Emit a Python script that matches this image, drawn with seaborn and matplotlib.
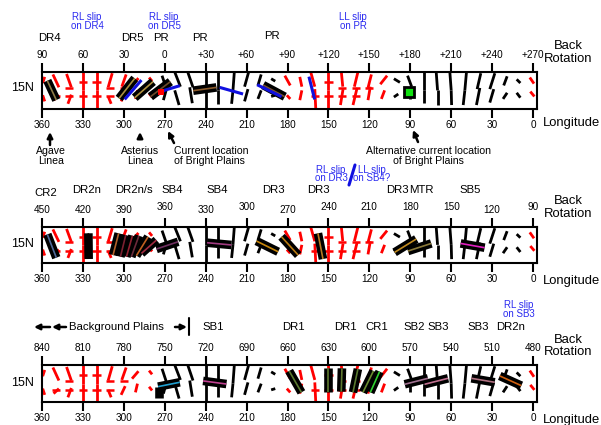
import pandas as pd
import matplotlib.pyplot as plt
import seaborn as sns

W, H = 601, 425

# Strike field, the same in all three panels. Offsets are degrees toward the east of field_lon
field_lon = [360, 350, 340, 330, 320, 310, 300, 290, 280, 270, 260, 250, 240, 230, 220, 210, 200, 190,
             180, 170, 160, 150, 140, 130, 120, 110, 100, 90, 80, 70, 60, 50, 40, 30, 20, 10, 0]
upper_top = [2, -2, -2, 0, 0, 1.5, 1.7, 0.7, -1.5, -2, -2.7, -3, 0, -1, 1, 1.5, 0.7, -2,
             -2, -1, -3, 0, -0.5, 1.5, 1.5, 3, -2, -2, 0, -1, -1, 1.2, 1.7, 2, 1, -2, -2.4]
upper_bot = [0.5, 2.4, 1.5, 0, 0, -1.5, -1.5, -4, 0.7, 1, 1.5, 0.7, 0, -1, 0, -1.5, -1.7, 1,
             2, 0.5, 0, 0, 0.5, -1, -1, -2, 2.4, 1, 0, 0, 0, 0, -1, -1.7, -1.5, 0.7, 0.7]
lower_top = [0.5, 2.4, 1.5, 0, 0, -1.5, 1, 0, -1.5, 1, -2.7, -1.7, 0, -1, 0, 1, 0.7, -2,
             -0.5, 0.5, 0, 0, 0.7, 1, 0.7, 1.2, -2, 0, 0, 0, 0, 0, 1, 1.2, 1, -2, -2]
lower_bot = [2, -1.5, -1, 0, 0, 0.7, -2, -1.5, 0.7, -1, 0.5, 0.2, 0, -1, -1, -1.5, -1.7, 1,
             2, -1, 0.7, 0, -1.2, -2, -1, -1.2, 1.2, 0, 0, 0, 0.3, -1.2, -1.5, -1.7, -2, 0.7, 1]
lat_upper_top = [26, 28, 28.4, 30, 30, 29, 28, 25, 25.5, 27, 30, 29.5, 30, 30, 30, 30, 28, 24.5,
                 27, 26, 30, 30, 29.5, 29.5, 28, 27, 24.5, 27, 30, 30, 30, 30, 29, 29, 26.5, 24, 25.5]
lat_upper_bot = [21, 17.5, 17.5, 15, 15, 17.5, 18, 19, 22.5, 17, 18, 17.5, 15, 15, 15, 18, 19, 22.5,
                 19, 18, 18, 15, 18, 18, 17, 20, 21.5, 18, 15, 15, 15, 15, 16, 16, 19, 21, 20.5]
lat_lower_top = [11, 11, 11.5, 15, 15, 10, 13, 15, 12.5, 15, 15, 17.5, 15, 15, 15, 16, 15, 10,
                 11, 15, 16, 15, 16, 17, 18, 15, 9.5, 14, 15, 15, 15, 15, 17, 16, 13, 13, 14]
lat_lower_bot = [6, 7, 4, 0, 0, 4, 6, 8, 9.5, 7, 3, 4.5, 0, 4, 4, 6, 8, 11,
                 8, 7, 0, 0, 3, 3, 7, 8, 12, 8, 5, 3, 3, 3, 3, 5, 8, 9, 10]
field_colour = ["red"] * 9 + ["black"] * 9 + ["red"] * 8 + ["black"] * 10 + ["red"]

tick_lon = [350, 340, 340, 330, 330, 320, 320, 310, 310, 300, 160, 150, 150, 140, 140, 130, 130, 120]
tick_lat = [10, 17, 10, 22, 10, 22, 10, 17, 10, 17, 10, 22, 10, 17, 10, 17, 10, 17]

# Panel tick labels
lon_ticks = [360, 330, 300, 270, 240, 210, 180, 150, 120, 90, 60, 30, 0]
rotation_1 = ["90", "60", "30", "0", "+30", "+60", "+90", "+120", "+150", "+180", "+210", "+240", "+270"]
rotation_2 = ["450", "420", "390", "360", "330", "300", "270", "240", "210", "180", "150", "120", "90"]
rotation_3 = ["840", "810", "780", "750", "720", "690", "660", "630", "600", "570", "540", "510", "480"]
raised_2 = ["360", "300", "240", "210", "180", "150", "90"]

# Fault bars: end points and inner colour
bars_1 = {
    "lon_a": [356.1, 292, 278.6, 265.9, 249.2, 197.9],
    "lat_a": [22.9, 24.8, 22.1, 22.1, 14.7, 19.3],
    "lon_b": [349.5, 303.5, 292, 280.5, 232.1, 182],
    "lat_b": [7.1, 8.4, 9, 9.8, 17.4, 9.8],
    "colour": ["#8c7a45", "#a89040", "#b09040", "#6b4a2a", "#8b5a2b", "#7a5230"],
}
bars_2 = {
    "lon_a": [356.1, 326, 303.8, 298.6, 293.7, 288.9, 282.2, 276.1, 260.2, 239, 202.8, 184.4, 157.7, 85.6, 74.6, 53.1],
    "lat_a": [23.8, 24.7, 24.7, 23.2, 22.7, 22.7, 21.8, 19, 17.6, 16.8, 18.2, 21.8, 24.7, 19.9, 16.2, 16.2],
    "lon_b": [349.5, 325.8, 307.9, 302.5, 298.1, 294.5, 290.8, 287.1, 276.1, 221.1, 186.9, 172.2, 154, 101.5, 91.7, 35.5],
    "lat_b": [4.2, 3.1, 6.4, 5, 5, 5, 5.9, 7.8, 11.5, 14.9, 9.2, 6.4, 3.1, 8.7, 9.8, 12.6],
    "colour": ["#506a9a", "black", "#b0602a", "#7a2030", "#902030", "#6a2a3a", "#c06020", "#a02a40", "#703060",
               "#a03a80", "#c8860a", "#b87a10", "#b87a20", "#c08a20", "#8b7a3a", "#e020c0"],
}
bars_3 = {
    "lon_a": [274.2, 274.9, 241.9, 178.8, 150.4, 140.1, 128.4, 117, 112.5, 77, 62.3, 45.2, 24.4],
    "lat_a": [12.6, 12.6, 17.2, 25.2, 27.3, 27.3, 26.8, 25.2, 24.7, 19.3, 19.3, 19.3, 21.2],
    "lon_b": [274.2, 259, 224.8, 169.8, 150.4, 140.6, 132, 124.7, 119.3, 94.1, 79.5, 28.1, 8.6],
    "lat_b": [3.2, 16.1, 14.7, 8, 8, 8.6, 8, 8, 8, 14.5, 14.5, 16.1, 13.4],
    "colour": ["black", "#20a0d0", "#c04090", "#5a7a30", "#607a30", "#607a30", "#5a7a30", "#6a8a30", "#30d030",
               "#a07090", "#c07090", "#b07080", "#d06010"],
}

# Blue slip lines on the first panel
slip_lon_a = [287.1, 259, 229.7, 202.3, 164.3]
slip_lat_a = [23.4, 18.8, 17.4, 19.6, 26.2]
slip_lon_b = [299.4, 271.2, 212.6, 184.4, 160.1]
slip_lat_b = [7.6, 14.7, 12, 9.8, 7.6]

plt.rcParams["font.family"] = "Liberation Sans"
sns.set_theme(style="white", rc={"font.family": "Liberation Sans", "axes.edgecolor": "black"})
fig = plt.figure(figsize=(W / 100, H / 100), dpi=100)


def draw_segments(ax, lon_a, lat_a, lon_b, lat_b, colours, lw, zorder):
    rows = []
    for i in range(len(lon_a)):
        rows.append({"seg": i, "lon": lon_a[i], "lat": lat_a[i], "colour": colours[i]})
        rows.append({"seg": i, "lon": lon_b[i], "lat": lat_b[i], "colour": colours[i]})
    df = pd.DataFrame(rows)
    palette = {c: c for c in set(colours)}
    sns.lineplot(data=df, x="lon", y="lat", hue="colour", units="seg", estimator=None, sort=False,
                 palette=palette, legend=False, linewidth=lw, solid_capstyle="butt", zorder=zorder, ax=ax)


def draw_field(ax):
    lon = pd.Series(field_lon)
    draw_segments(ax, lon + [-v for v in upper_top], lat_upper_top, lon + [-v for v in upper_bot], lat_upper_bot,
                  field_colour, 2, 2)
    draw_segments(ax, lon + [-v for v in lower_top], lat_lower_top, lon + [-v for v in lower_bot], lat_lower_bot,
                  field_colour, 2, 2)
    tlon = pd.Series(tick_lon)
    draw_segments(ax, tlon + 3, tick_lat, tlon - 3, tick_lat, ["red"] * len(tick_lon), 1.8, 2)


def make_panel(top_px, bot_px, rotation, raised=()):
    ax = fig.add_axes([42 / W, 1 - bot_px / H, 495 / W, (bot_px - top_px) / H])
    draw_field(ax)
    ax.set_xlim(360, -2.9)
    ax.set_ylim(0, 30)
    ax.set_yticks([])
    ax.set_xticks(lon_ticks, [str(t) for t in lon_ticks])
    ax.set_xlabel("")
    ax.set_ylabel("")
    ax.tick_params(axis="x", bottom=True, length=6.5, width=1.5, pad=1.5, labelsize=7.2, colors="black")
    for s in ax.spines.values():
        s.set_linewidth(1.5)
        s.set_zorder(6)
    top = ax.twiny()
    top.set_xlim(ax.get_xlim())
    top.set_xticks(lon_ticks, rotation)
    top.tick_params(axis="x", top=True, length=6.5, width=1.5, pad=2, labelsize=7.2, colors="black")
    top.grid(False)
    for t, lab in zip(top.xaxis.get_major_ticks(), rotation):
        if lab in raised:
            t.set_pad(4)
    return ax


def draw_bars(ax, bars):
    n = len(bars["colour"])
    draw_segments(ax, bars["lon_a"], bars["lat_a"], bars["lon_b"], bars["lat_b"], ["black"] * n, 6.2, 3)
    draw_segments(ax, bars["lon_a"], bars["lat_a"], bars["lon_b"], bars["lat_b"], bars["colour"], 1.2, 4)
    ax.set_xlabel("")
    ax.set_ylabel("")


ax1 = make_panel(72, 108.7, rotation_1)
ax2 = make_panel(227, 262.7, rotation_2, raised_2)
ax3 = make_panel(365, 402.3, rotation_3)
draw_bars(ax1, bars_1)
draw_bars(ax2, bars_2)
draw_bars(ax3, bars_3)

draw_segments(ax1, slip_lon_a, slip_lat_a, slip_lon_b, slip_lat_b, ["#1010e0"] * 5, 2.2, 5)
ax1.plot([272.5], [13.4], "s", color="red", ms=5, mew=0, zorder=5)
ax1.plot([91], [13.9], "s", color="#10e010", mec="black", mew=2, ms=6.5, zorder=5)
ax1.set_xlabel("")
ax1.set_ylabel("")


def px_text(x, y, s, size=8.2, color="black", ha="center", spacing=0.95):
    fig.text(x / W, 1 - y / H, s, fontsize=size, color=color, ha=ha, va="center", linespacing=spacing)


def px_arrow(x0, y0, x1, y1, width=1.8, head=8):
    plt.annotate("", xy=(x1 / W, 1 - y1 / H), xytext=(x0 / W, 1 - y0 / H), xycoords="figure fraction",
                 textcoords="figure fraction",
                 arrowprops=dict(arrowstyle="-|>", color="black", lw=width, mutation_scale=head, shrinkA=0, shrinkB=0))


blue = "#2a2af0"
# top panel text
for x, s in [(49, "DR4"), (132, "DR5"), (161, "PR"), (200, "PR")]:
    px_text(x, 38, s)
px_text(272, 36, "PR")
px_text(87, 21.5, "RL slip\non DR4", 7, blue, spacing=0.85)
px_text(164, 21.5, "RL slip\non DR5", 7, blue, spacing=0.85)
px_text(353, 21.5, "LL slip\non PR", 7, blue, spacing=0.85)
px_text(51, 156, "Agave\nLinea", 7.6)
px_text(140, 156, "Asterius\nLinea", 7.6)
px_text(174, 156, "Current location\nof Bright Plains", 7.6, ha="left")
px_text(428, 156, "Alternative current location\nof Bright Plains", 7.6)
px_arrow(50, 145, 50, 132)
px_arrow(140, 139, 140, 132)
px_arrow(174, 143, 168, 131)
px_arrow(418, 142, 413, 130)

# middle panel text
for x, s in [(87, "DR2n"), (134, "DR2n/s"), (172, "SB4"), (217, "SB4"), (273, "DR3"), (318, "DR3"),
             (397, "DR3"), (421, "MTR"), (470, "SB5")]:
    px_text(x, 190, s)
px_text(46, 193, "CR2")
px_text(331, 174, "RL slip\non DR3", 7, blue, spacing=0.85)
px_text(372, 174, "LL slip\non SB4?", 7, blue, spacing=0.85)
fig.add_artist(plt.Line2D([355 / W, 349 / W], [1 - 165 / H, 1 - 185 / H], color="#1010e0", lw=2.2))

# bottom panel text
for x, s in [(213, "SB1"), (293, "DR1"), (345, "DR1"), (377, "CR1"), (414, "SB2"), (438, "SB3"), (478, "SB3"),
             (511, "DR2n")]:
    px_text(x, 327, s)
px_text(116, 327, "Background Plains")
px_text(519, 309.5, "RL slip\non SB3", 7, blue, spacing=0.85)
px_arrow(50, 327, 34, 327)
px_arrow(66, 327, 52, 327)
px_arrow(175, 327, 187, 327)
fig.add_artist(plt.Line2D([189 / W, 189 / W], [1 - 318 / H, 1 - 335 / H], color="black", lw=1.5))

# labels repeated on each panel
for y_back, y_lon, y_lat in [(52.5, 123, 88), (207.5, 281, 244), (346, 420, 383)]:
    px_text(568, y_back, "Back\nRotation", 9.4, spacing=1.05)
    px_text(543, y_lon, "Longitude", 9.4, ha="left")
    px_text(22, y_lat, "15N", 9)

fig.savefig("out.png", dpi=100)
